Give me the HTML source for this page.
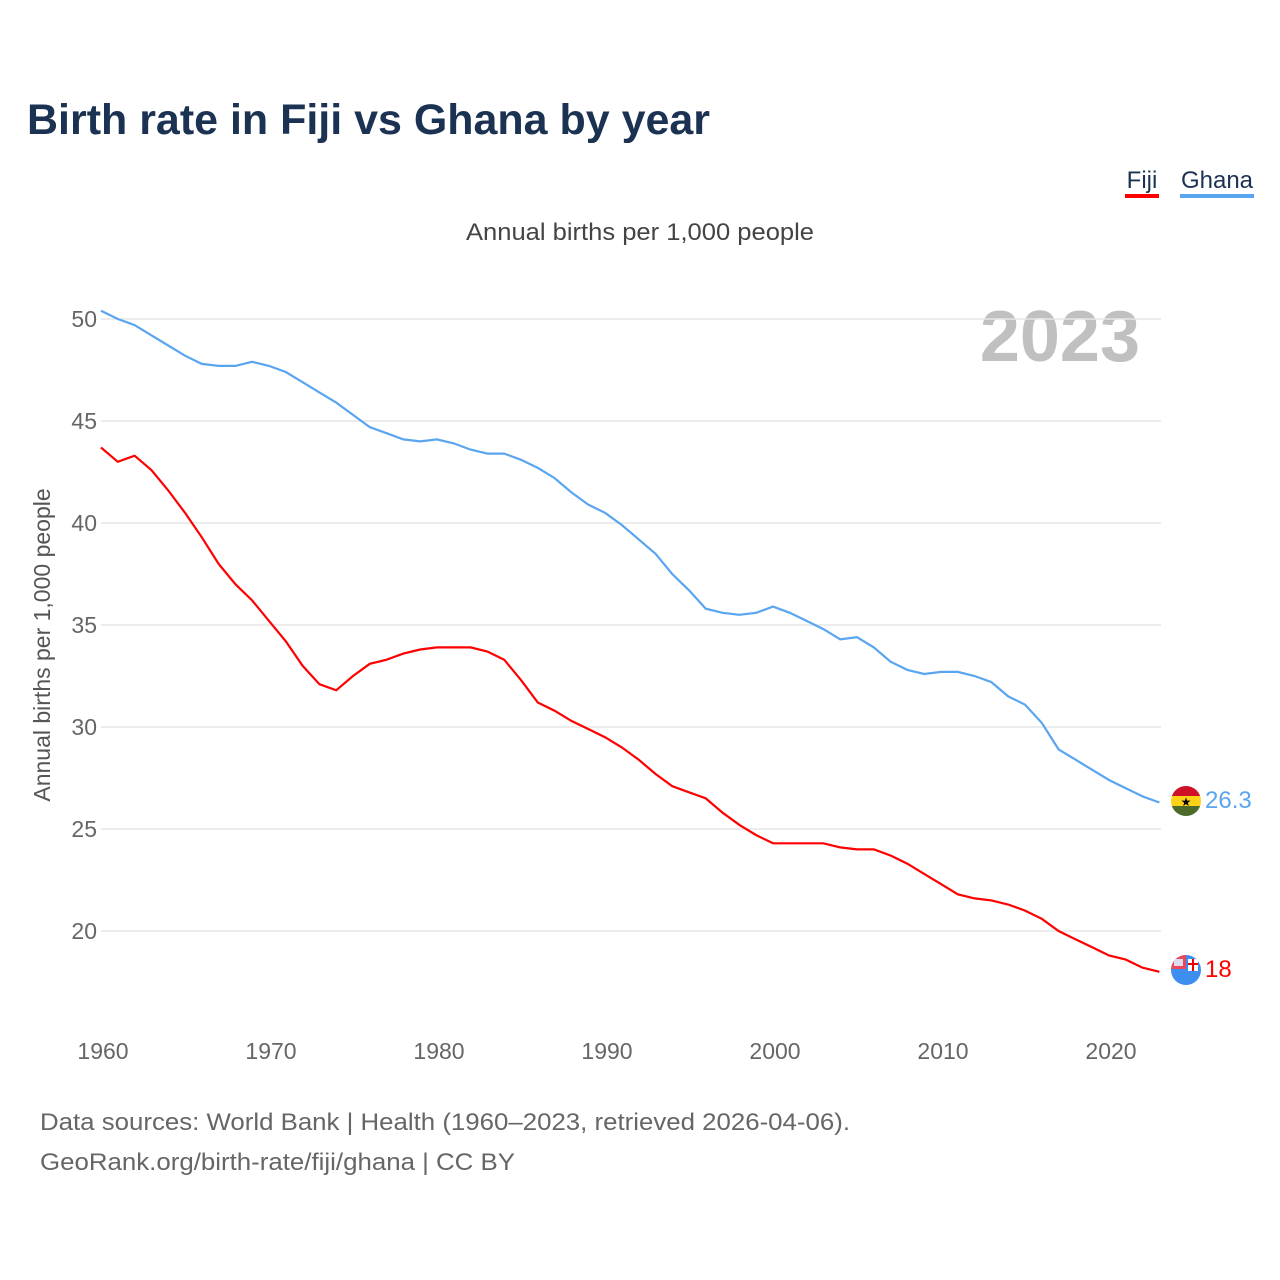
<!DOCTYPE html>
<html><head><meta charset="utf-8">
<style>
body{margin:0;background:#fff;font-family:"Liberation Sans",sans-serif;}
#wrap{position:relative;width:1280px;height:1280px;overflow:hidden;}
</style></head>
<body>
<div id="wrap">
<svg id="chart" width="1280" height="1280">
<text x="27" y="134" font-size="43" font-weight="bold" fill="#1b3252" textLength="683" lengthAdjust="spacingAndGlyphs">Birth rate in Fiji vs Ghana by year</text>
<g>
<text x="1142" y="188" font-size="24" fill="#1b3252" text-anchor="middle">Fiji</text>
<rect x="1125" y="194" width="34" height="4" fill="#ff0000"/>
<text x="1217" y="188" font-size="24" fill="#1b3252" text-anchor="middle">Ghana</text>
<rect x="1180" y="194" width="74" height="4" fill="#5aa5ef"/>
</g>
<text x="466" y="240" font-size="24" fill="#444" textLength="348" lengthAdjust="spacingAndGlyphs">Annual births per 1,000 people</text>
<text x="1140" y="361" font-size="72" font-weight="bold" fill="#c0c0c0" text-anchor="end">2023</text>
<text transform="translate(50,645) rotate(-90)" font-size="23" fill="#555" text-anchor="middle">Annual births per 1,000 people</text>
<g id="grid"></g><g id="lines"></g><g id="xt"></g>
<g>
<clipPath id="cg"><circle cx="1186" cy="801" r="15"/></clipPath>
<g clip-path="url(#cg)"><rect x="1170" y="786" width="32" height="10" fill="#ce1126"/><rect x="1170" y="796" width="32" height="10" fill="#fcd116"/><rect x="1170" y="806" width="32" height="11" fill="#4c6b2a"/></g>
<text x="1186" y="806" font-size="12" text-anchor="middle">★</text>
</g>
<g>
<clipPath id="cf"><circle cx="1186" cy="970" r="15"/></clipPath>
<g clip-path="url(#cf)"><rect x="1170" y="955" width="32" height="32" fill="#3e8ef0"/><rect x="1170" y="955" width="16" height="14" fill="#e8485a"/><rect x="1174" y="959" width="9" height="7" fill="#dde"/><rect x="1188" y="959" width="10" height="12" fill="#fff"/><rect x="1192" y="959" width="2" height="12" fill="#e00"/><rect x="1188" y="963" width="10" height="2" fill="#e00"/></g>
</g>
<text x="1205" y="808" font-size="24" fill="#5aa5ef">26.3</text>
<text x="1205" y="977" font-size="24" fill="#ff0000">18</text>
<text x="40" y="1130" font-size="24" fill="#666" textLength="810" lengthAdjust="spacingAndGlyphs">Data sources: World Bank | Health (1960–2023, retrieved 2026-04-06).</text>
<text x="40" y="1170" font-size="24" fill="#666" textLength="475" lengthAdjust="spacingAndGlyphs">GeoRank.org/birth-rate/fiji/ghana | CC BY</text>
</svg>
</div>
<script>
const years=[];for(let y=1960;y<=2023;y++)years.push(y);
const ghana=[50.4,50.0,49.7,49.2,48.7,48.2,47.8,47.7,47.7,47.9,47.7,47.4,46.9,46.4,45.9,45.3,44.7,44.4,44.1,44.0,44.1,43.9,43.6,43.4,43.4,43.1,42.7,42.2,41.5,40.9,40.5,39.9,39.2,38.5,37.5,36.7,35.8,35.6,35.5,35.6,35.9,35.6,35.2,34.8,34.3,34.4,33.9,33.2,32.8,32.6,32.7,32.7,32.5,32.2,31.5,31.1,30.2,28.9,28.4,27.9,27.4,27.0,26.6,26.3];
const fiji=[43.7,43.0,43.3,42.6,41.6,40.5,39.3,38.0,37.0,36.2,35.2,34.2,33.0,32.1,31.8,32.5,33.1,33.3,33.6,33.8,33.9,33.9,33.9,33.7,33.3,32.3,31.2,30.8,30.3,29.9,29.5,29.0,28.4,27.7,27.1,26.8,26.5,25.8,25.2,24.7,24.3,24.3,24.3,24.3,24.1,24.0,24.0,23.7,23.3,22.8,22.3,21.8,21.6,21.5,21.3,21.0,20.6,20.0,19.6,19.2,18.8,18.6,18.2,18.0];
const yTicks=[20,25,30,35,40,45,50];
const xTicks=[1960,1970,1980,1990,2000,2010,2020];
const NS="http://www.w3.org/2000/svg";
const X=v=>101+(v-1960)*16.8;
const Y=v=>319+(50-v)*20.4;
const grid=document.getElementById('grid'),lines=document.getElementById('lines'),xt=document.getElementById('xt');
for(const t of yTicks){
 const l=document.createElementNS(NS,'line');
 l.setAttribute('x1',101);l.setAttribute('x2',1161);l.setAttribute('y1',Y(t));l.setAttribute('y2',Y(t));
 l.setAttribute('stroke','#e6e6e6');l.setAttribute('stroke-width','1.5');
 
 
 grid.appendChild(l);
 const tx=document.createElementNS(NS,'text');
 tx.setAttribute('x',97);tx.setAttribute('y',Y(t)+8);tx.setAttribute('text-anchor','end');
 tx.setAttribute('font-size','23');tx.setAttribute('fill','#666');tx.textContent=t;
 
 
 grid.appendChild(tx);
}
for(const t of xTicks){
 const tx=document.createElementNS(NS,'text');
 tx.setAttribute('x',X(t)+2);tx.setAttribute('y',1059);tx.setAttribute('text-anchor','middle');
 tx.setAttribute('font-size','23');tx.setAttribute('fill','#666');tx.textContent=t;
 
 
 xt.appendChild(tx);
}
function draw(data,color,name){
 const p=document.createElementNS(NS,'path');
 p.setAttribute('d',data.map((v,i)=>(i?'L':'M')+X(years[i]).toFixed(1)+','+Y(v).toFixed(1)).join(''));
 p.setAttribute('fill','none');p.setAttribute('stroke',color);p.setAttribute('stroke-width','2.2');
 
 
 lines.appendChild(p);
}
draw(ghana,'#5aa5ef','ghana-line');
draw(fiji,'#ff0000','fiji-line');
</script>
</body></html>
